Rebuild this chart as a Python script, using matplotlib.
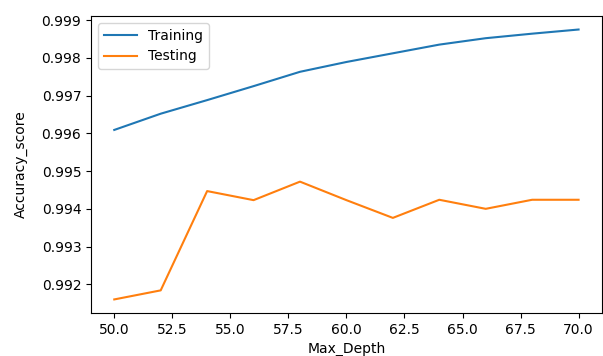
import numpy as np
import matplotlib
matplotlib.use("Agg")
import matplotlib.pyplot as plt

max_depth = [50, 52, 54, 56, 58, 60, 62, 64, 66, 68, 70]
train_acc = [0.99609, 0.99652, 0.99688, 0.99725, 0.99763, 0.99789, 0.99812,
             0.99835, 0.99852, 0.99864, 0.99875]
test_acc = [0.99160, 0.99184, 0.99447, 0.99423, 0.99472, 0.99423, 0.99376,
            0.99424, 0.99400, 0.99424, 0.99424]

fig = plt.figure(figsize=(6.03, 3.56), dpi=100)
ax = fig.add_axes([0.151, 0.121, 0.847, 0.834])
ax.plot(max_depth, train_acc, label="Training")
ax.plot(max_depth, test_acc, label="Testing")
ax.set_xlabel("Max_Depth")
ax.set_ylabel("Accuracy_score", labelpad=10)
ax.legend(loc="upper left", handlelength=2.4)
fig.savefig("out.png", dpi=100)
